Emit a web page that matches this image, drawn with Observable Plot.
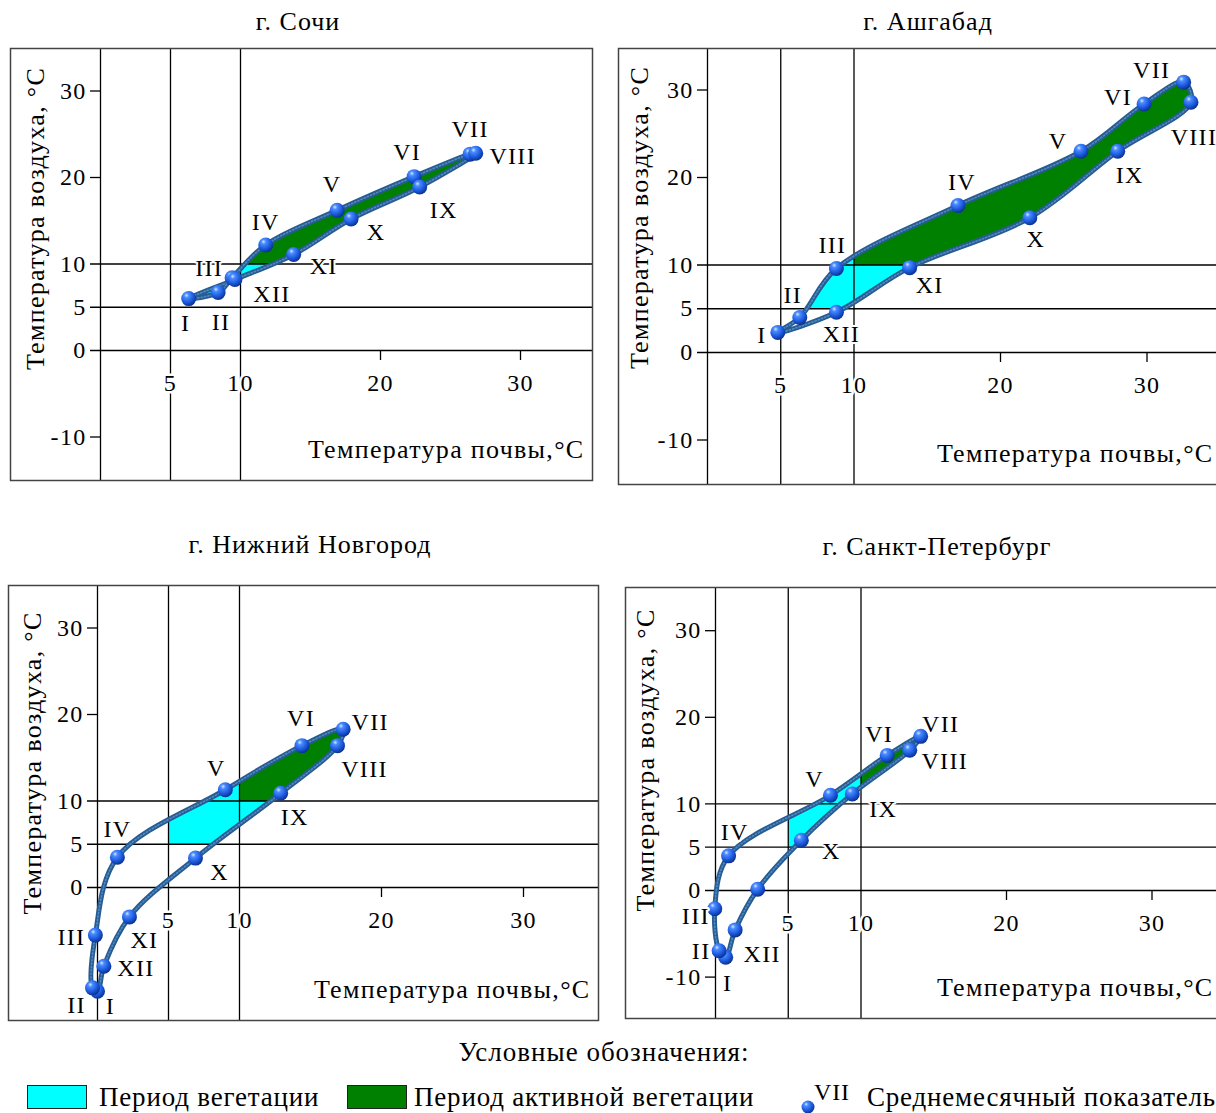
<!DOCTYPE html>
<html><head><meta charset="utf-8">
<script src="https://cdn.jsdelivr.net/npm/d3@7"></script>
<script src="https://cdn.jsdelivr.net/npm/@observablehq/plot@0.6"></script>
<style>
html,body{margin:0;padding:0;background:#fff;overflow:hidden;}
#root{position:relative;width:1216px;height:1113px;overflow:hidden;font-family:"Liberation Serif","Times New Roman",serif;color:#000;}
.title{position:absolute;font-size:26px;letter-spacing:1px;white-space:nowrap;transform:translate(-50%,-50%);}
.panel{position:absolute;}
.panel svg{overflow:visible;max-width:none !important;}
.leg{position:absolute;font-size:27px;letter-spacing:0.8px;white-space:nowrap;transform:translateY(-50%);}
.sw{position:absolute;width:58px;height:22px;border:1.5px solid #222;}
</style></head><body><div id="root"></div>
<script>
// ---- data ----
const months = ["I","II","III","IV","V","VI","VII","VIII","IX","X","XI","XII"];
const sochiSoil = [6.3, 8.4, 9.4, 11.8, 16.9, 22.4, 26.4, 26.8, 22.8, 17.9, 13.8, 9.6];
const sochiAir  = [6.0, 6.7, 8.4, 12.2, 16.2, 20.1, 22.7, 22.8, 18.9, 15.2, 11.1, 8.2];
const ashSoil = [4.8, 6.3, 8.8, 17.1, 25.5, 29.8, 32.5, 33.0, 28.0, 22.0, 13.8, 8.8];
const ashAir  = [2.3, 4.0, 9.6, 16.8, 23.0, 28.4, 30.9, 28.6, 23.0, 15.4, 9.7, 4.6];
const nnSoil = [0.0, -0.35, -0.15, 1.4, 9.0, 14.4, 17.3, 16.9, 12.9, 6.9, 2.25, 0.45];
const nnAir  = [-12.0, -11.6, -5.5, 3.5, 11.3, 16.4, 18.3, 16.4, 10.9, 3.4, -3.4, -9.1];
const spbSoil = [0.7, 0.25, -0.05, 0.9, 7.9, 11.8, 14.1, 13.35, 9.4, 5.9, 2.9, 1.35];
const spbAir  = [-7.7, -6.95, -2.1, 4.0, 11.0, 15.6, 17.8, 16.2, 11.15, 5.8, 0.15, -4.55];
const spbLabels = ["I","II","III","IV","V","VI","VII","VIII","IX","X","","XII"];
const xTicks = [5, 10, 20, 30];
const yTicks = [30, 20, 10, 5, 0, -10];
const yTicksNN = [30, 20, 10, 5, 0];
const xLines = [5, 10];
const yLines = [0, 5, 10];
const vegThreshold = 5, activeThreshold = 10;
const xTitle = "Температура почвы,°C";
const yTitle = "Температура воздуха, °C";

// ---- layout (pixels) ----
const panels = [
  {title:"г. Сочи", tx:298, ty:22, soil:sochiSoil, air:sochiAir, labels:months, yTicks,
   left:10, top:48, width:582, height:432, x0:100, xk:14.0, y0:350, yk:8.65, ytx:25, yty:-46, xtdx:-8,
   offs:[[-3,25],[3,30],[-23,-10],[0,-23],[-5,-26],[-7,-24],[0,-25],[37,3],[24,23],[25,13],[30,12],[37,15]]},
  {title:"г. Ашгабад", tx:928, ty:22, soil:ashSoil, air:ashAir, labels:months, yTicks,
   left:618, top:48, width:614, height:436, x0:707, xk:14.65, y0:352, yk:8.75, ytx:21, yty:-49, xtdx:-19,
   offs:[[-16,3],[-7,-22],[-4,-23],[4,-23],[-23,-10],[-26,-7],[-32,-12],[3,35],[12,24],[6,22],[20,18],[5,22]]},
  {title:"г. Нижний Новгород", tx:310, ty:545, soil:nnSoil, air:nnAir, labels:months, yTicks:yTicksNN,
   left:8, top:585, width:590, height:435, x0:97, xk:14.2, y0:887, yk:8.65, ytx:24, yty:-40, xtdx:-8,
   offs:[[13,15],[-16,17],[-24,2],[0,-28],[-9,-21],[-1,-27],[27,-7],[27,24],[14,24],[24,14],[15,23],[32,2]]},
  {title:"г. Санкт-Петербург", tx:937, ty:547, soil:spbSoil, air:spbAir, labels:spbLabels, yTicks,
   left:625, top:587, width:612, height:431, x0:715, xk:14.55, y0:890, yk:8.66, ytx:20, yty:-43, xtdx:-24,
   offs:[[2,26],[-18,1],[-19,8],[6,-24],[-16,-16],[-8,-21],[20,-12],[35,11],[31,15],[30,11],[0,0],[27,24]]}
];

const root = document.getElementById("root");

// shared gradient for the spheres
const defsSvg = d3.select(root).append("svg").attr("width",0).attr("height",0).style("position","absolute");
const grad = defsSvg.append("defs").append("radialGradient").attr("id","ball")
  .attr("cx","38%").attr("cy","32%").attr("r","70%").attr("fx","35%").attr("fy","28%");
grad.append("stop").attr("offset","0%").attr("stop-color","#d6e8ff");
grad.append("stop").attr("offset","22%").attr("stop-color","#4a8cff");
grad.append("stop").attr("offset","65%").attr("stop-color","#1b58dc");
grad.append("stop").attr("offset","100%").attr("stop-color","#0a2f8a");

const m = 2;
panels.forEach(p => {
  const t = document.createElement("div");
  t.className = "title"; t.textContent = p.title;
  t.style.left = p.tx + "px"; t.style.top = p.ty + "px";
  root.appendChild(t);

  const xDomain = [(p.left - p.x0) / p.xk, (p.left + p.width - p.x0) / p.xk];
  const yDomain = [(p.y0 - (p.top + p.height)) / p.yk, (p.y0 - p.top) / p.yk];
  const tickX = -10 / p.xk;   // 10px tick length in data units
  const tickY = -10 / p.yk;
  const data = p.soil.map((s, i) => ({x: s, y: p.air[i], m: p.labels[i]}));
  const loop = {x: "x", y: "y", curve: "catmull-rom-closed"};

  const marks = [
    Plot.line(data, {...loop, fill: "#00ffff", stroke: "none"}),
    Plot.line(data, {...loop, fill: "#008000", stroke: "none"}),
    Plot.ruleX([0], {stroke: "#000", strokeWidth: 1.3}),
    Plot.ruleX(xLines, {stroke: "#000", strokeWidth: 1.3}),
    Plot.ruleY(yLines, {x1: tickX, x2: xDomain[1], stroke: "#000", strokeWidth: 1.3}),
    Plot.ruleY(p.yTicks.filter(v => !yLines.includes(v)), {x1: tickX, x2: 0, stroke: "#000", strokeWidth: 1.3}),
    Plot.ruleX(xTicks.filter(v => !xLines.includes(v)), {y1: 0, y2: tickY, stroke: "#000", strokeWidth: 1.3}),
    Plot.text(p.yTicks, {x: 0, y: d => d, text: d => String(d), dx: -14, textAnchor: "end", fontSize: 24}),
    Plot.text(xTicks, {x: d => d, y: 0, text: d => String(d), dy: 33, fontSize: 24, stroke: "white", strokeWidth: 5, fill: "black"}),
    Plot.line(data, {...loop, stroke: "#275c92", strokeWidth: 5, fill: "none"}),
    Plot.line(data, {...loop, stroke: "#5189c2", strokeWidth: 1.6, strokeDasharray: "1.2 2.2", fill: "none"}),
    Plot.dot(data, {x: "x", y: "y", r: 7.5, fill: "url(#ball)", stroke: "none"}),
    ...data.map((d, i) => Plot.text([d], {x: "x", y: "y", text: "m", dx: p.offs[i][0], dy: p.offs[i][1],
      fontSize: 24, stroke: "white", strokeWidth: 4, fill: "black"})),
    Plot.text([yTitle], {frameAnchor: "left", textAnchor: "middle", rotate: -90, dx: p.ytx, dy: p.yty, fontSize: 26}),
    Plot.text([xTitle], {frameAnchor: "bottom-right", textAnchor: "end", dx: p.xtdx, dy: -23, fontSize: 26}),
    Plot.frame({stroke: "#444", strokeWidth: 1.5})
  ];

  const svg = Plot.plot({
    width: p.width + 2 * m, height: p.height + 2 * m, margin: m,
    x: {domain: xDomain, axis: null}, y: {domain: yDomain, axis: null},
    style: {fontFamily: "'Liberation Serif','Times New Roman',serif", color: "#000", background: "transparent", letterSpacing: "1.3px", maxWidth: "none"},
    marks
  });

  // clip the two fills to the vegetation regions using the plot's scales
  const sx = svg.scale("x"), sy = svg.scale("y");
  const W = p.width + 2 * m;
  const defs = d3.select(svg).append("defs");
  const uid = "c" + Math.random().toString(36).slice(2);
  defs.append("clipPath").attr("id", uid + "veg").append("rect")
    .attr("x", sx.apply(vegThreshold)).attr("y", 0)
    .attr("width", W - sx.apply(vegThreshold)).attr("height", sy.apply(vegThreshold));
  defs.append("clipPath").attr("id", uid + "act").append("rect")
    .attr("x", sx.apply(activeThreshold)).attr("y", 0)
    .attr("width", W - sx.apply(activeThreshold)).attr("height", sy.apply(activeThreshold));
  const lines = svg.querySelectorAll('g[aria-label="line"]');
  lines[0].setAttribute("clip-path", `url(#${uid}veg)`);
  lines[1].setAttribute("clip-path", `url(#${uid}act)`);

  const wrap = document.createElement("div");
  wrap.className = "panel";
  wrap.style.left = (p.left - m) + "px"; wrap.style.top = (p.top - m) + "px";
  wrap.style.width = (p.width + 2 * m) + "px"; wrap.style.height = (p.height + 2 * m) + "px";
  svg.style.width = (p.width + 2 * m) + "px"; svg.style.height = (p.height + 2 * m) + "px";
  wrap.appendChild(svg);
  root.appendChild(wrap);
});

// ---- legend ----
const legendTitle = "Условные обозначения:";
const legendItems = ["Период вегетации", "Период активной вегетации", "Среднемесячный показатель"];
function addDiv(cls, text, x, y, extra) {
  const d = document.createElement("div");
  d.className = cls; if (text) d.textContent = text;
  d.style.left = x + "px"; d.style.top = y + "px";
  Object.assign(d.style, extra || {});
  root.appendChild(d); return d;
}
addDiv("title", legendTitle, 604, 1052, {fontSize: "27px"});
addDiv("sw", "", 27, 1085, {background: "#00ffff"});
addDiv("leg", legendItems[0], 99, 1097);
addDiv("sw", "", 347, 1085, {background: "#008000"});
addDiv("leg", legendItems[1], 414, 1097);
const lb = d3.select(root).append("svg").attr("width", 20).attr("height", 20)
  .style("position", "absolute").style("left", "799px").style("top", "1097px");
lb.append("circle").attr("cx", 9).attr("cy", 10).attr("r", 6.5).attr("fill", "url(#ball)");
addDiv("leg", "VII", 814, 1092, {fontSize: "24px"});
addDiv("leg", legendItems[2], 867, 1097);
</script></body></html>
